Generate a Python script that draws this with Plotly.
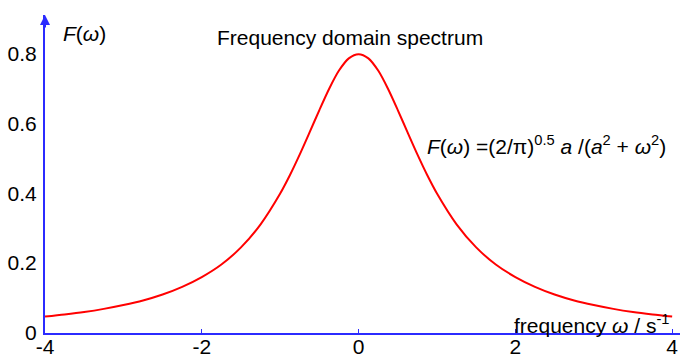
import plotly.graph_objects as go

# values
omega = [-4.0, -3.75, -3.5, -3.25, -3.0, -2.75, -2.5, -2.25, -2.0, -1.75, -1.5, -1.25, -1.0,
         -0.875, -0.75, -0.625, -0.5, -0.375, -0.25, -0.125, 0.0, 0.125, 0.25, 0.375, 0.5,
         0.625, 0.75, 0.875, 1.0, 1.25, 1.5, 1.75, 2.0, 2.25, 2.5, 2.75, 3.0, 3.25, 3.5,
         3.75, 4.0]
spectrum = [0.047, 0.053, 0.060, 0.069, 0.080, 0.093, 0.110, 0.132, 0.160, 0.196, 0.245, 0.311, 0.399,
            0.452, 0.511, 0.574, 0.638, 0.699, 0.751, 0.786, 0.798, 0.786, 0.751, 0.699, 0.638,
            0.574, 0.511, 0.452, 0.399, 0.311, 0.245, 0.196, 0.160, 0.132, 0.110, 0.093, 0.080, 0.069, 0.060,
            0.053, 0.047]

x_ticks = [-4, -2, 0, 2, 4]
x_ticktext = ["-4", "-2", "0", "2", "4"]
y_ticks = [0, 0.2, 0.4, 0.6, 0.8]
y_ticktext = ["0", "0.2", "0.4", "0.6", "0.8"]

axis_blue = "#2b2bff"
font_name = "Liberation Sans, Arial, sans-serif"

fig = go.Figure()

fig.add_trace(go.Scatter(
    x=omega,
    y=spectrum,
    mode="lines",
    line=dict(color="#ff0000", width=2, shape="spline", smoothing=0.8),
    hoverinfo="skip",
    showlegend=False,
))

fig.update_layout(
    width=680,
    height=355,
    margin=dict(l=45, r=0, t=15, b=22),
    paper_bgcolor="white",
    plot_bgcolor="white",
    font=dict(family=font_name, size=21, color="black"),
    xaxis=dict(
        range=[-4, 4.1],
        tickvals=x_ticks,
        ticktext=x_ticktext,
        showgrid=False,
        zeroline=False,
        showline=True,
        linecolor=axis_blue,
        linewidth=2,
        ticks="inside",
        ticklen=4,
        tickcolor=axis_blue,
        ticklabelstandoff=-6,
        automargin=False,
        fixedrange=True,
    ),
    yaxis=dict(
        range=[0, 0.91],
        tickvals=y_ticks,
        ticktext=y_ticktext,
        showgrid=False,
        zeroline=False,
        showline=True,
        linecolor=axis_blue,
        linewidth=2,
        ticks="",
        ticklabelstandoff=2,
        automargin=False,
        fixedrange=True,
    ),
)

# arrow head on top of the y axis
fig.add_annotation(
    x=-4, y=0.91, xref="x", yref="y",
    ax=0, ay=14, showarrow=True,
    arrowhead=2, arrowsize=1, arrowwidth=2, arrowcolor=axis_blue, text="",
)

fig.add_annotation(
    x=-3.8, y=0.857, xref="x", yref="y", xanchor="left", yanchor="middle",
    text="<i>F</i>(<i>ω</i>)", showarrow=False,
)

fig.add_annotation(
    x=-0.11, y=0.846, xref="x", yref="y", xanchor="center", yanchor="middle",
    text="Frequency domain spectrum", showarrow=False,
)

fig.add_annotation(
    x=0.847, y=0.537, xref="x", yref="y", xanchor="left", yanchor="middle",
    text="<i>F</i>(<i>ω</i>) =(2/π)<sup>0.5</sup> <i>a</i> /(<i>a</i><sup>2</sup> + <i>ω</i><sup>2</sup>)",
    showarrow=False,
)

fig.add_annotation(
    x=4, y=0.025, xref="x", yref="y", xanchor="right", yanchor="middle",
    text="frequency <i>ω</i> / s<sup>-1</sup>", showarrow=False,
)

# drop the default page margin so the figure sits at the window's corner
fig.write_html(
    "out.html",
    config={"displayModeBar": False},
    post_script="document.body.style.margin='0';",
)
